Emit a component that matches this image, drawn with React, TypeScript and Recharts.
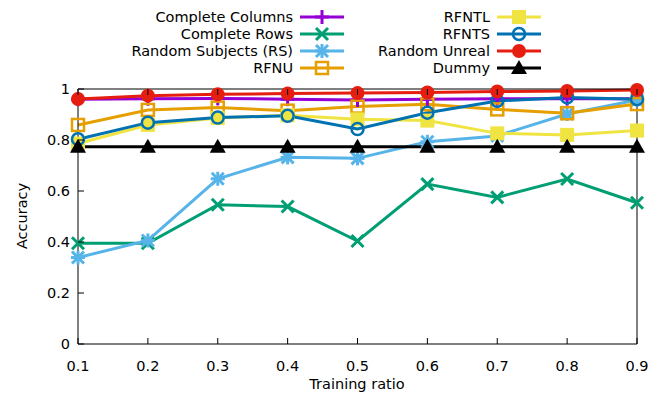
import React from "react";
import { LineChart, Line, XAxis, YAxis } from "recharts";

// training ratios on the x axis
const ratios = [0.1, 0.2, 0.3, 0.4, 0.5, 0.6, 0.7, 0.8, 0.9];
const xTicks = [0.1, 0.2, 0.3, 0.4, 0.5, 0.6, 0.7, 0.8, 0.9];
const yTicks = [0, 0.2, 0.4, 0.6, 0.8, 1];

// accuracy per series
const completeColumns = [0.96, 0.962, 0.963, 0.96, 0.957, 0.96, 0.962, 0.962, 0.962];
const completeRows = [0.395, 0.395, 0.546, 0.539, 0.404, 0.627, 0.575, 0.647, 0.554];
const randomSubjects = [0.339, 0.406, 0.648, 0.732, 0.728, 0.793, 0.816, 0.902, 0.957];
const rfnu = [0.859, 0.918, 0.927, 0.915, 0.931, 0.94, 0.92, 0.905, 0.941];
const rfntl = [0.786, 0.859, 0.886, 0.897, 0.881, 0.876, 0.826, 0.82, 0.837];
const rfnts = [0.803, 0.868, 0.888, 0.895, 0.843, 0.907, 0.953, 0.967, 0.96];
const randomUnreal = [0.961, 0.974, 0.979, 0.982, 0.984, 0.986, 0.99, 0.992, 0.996];
const dummy = [0.774, 0.774, 0.774, 0.774, 0.774, 0.774, 0.774, 0.774, 0.774];

const series = [
    { key: "cc", name: "Complete Columns", values: completeColumns, color: "#9400d3", shape: "plus" },
    { key: "cr", name: "Complete Rows", values: completeRows, color: "#009e73", shape: "cross" },
    { key: "rs", name: "Random Subjects (RS)", values: randomSubjects, color: "#56b4e9", shape: "star" },
    { key: "rfnu", name: "RFNU", values: rfnu, color: "#e69f00", shape: "openSquare" },
    { key: "rfntl", name: "RFNTL", values: rfntl, color: "#f0e442", shape: "square" },
    { key: "rfnts", name: "RFNTS", values: rfnts, color: "#0072b2", shape: "openCircle" },
    { key: "ru", name: "Random Unreal", values: randomUnreal, color: "#e51e10", shape: "circle" },
    { key: "dummy", name: "Dummy", values: dummy, color: "#000000", shape: "triangle" },
];

const data = ratios.map((r, i) => {
    const row: Record<string, number> = { ratio: r };
    series.forEach((s) => { row[s.key] = s.values[i]; });
    return row;
});

const W = 664;
const H = 399;
// axes take 1px each, so the plot area is 78..637 x 89..344
const margin = { top: 88, right: 26, bottom: 54, left: 77 };
const FONT = "DejaVu Sans, sans-serif";
const FS = 14.5;

const marker = (shape: string, cx: number, cy: number, color: string, key?: string | number) => {
    switch (shape) {
        case "plus":
            return (
                <g key={key} stroke={color} strokeWidth={3}>
                    <line x1={cx - 7} y1={cy} x2={cx + 7} y2={cy} />
                    <line x1={cx} y1={cy - 7} x2={cx} y2={cy + 7} />
                </g>
            );
        case "cross":
            return (
                <g key={key} stroke={color} strokeWidth={3}>
                    <line x1={cx - 6} y1={cy - 6} x2={cx + 6} y2={cy + 6} />
                    <line x1={cx - 6} y1={cy + 6} x2={cx + 6} y2={cy - 6} />
                </g>
            );
        case "star":
            return (
                <g key={key} stroke={color} strokeWidth={3}>
                    <line x1={cx - 6} y1={cy - 6} x2={cx + 6} y2={cy + 6} />
                    <line x1={cx - 6} y1={cy + 6} x2={cx + 6} y2={cy - 6} />
                    <line x1={cx - 7} y1={cy} x2={cx + 7} y2={cy} />
                    <line x1={cx} y1={cy - 7} x2={cx} y2={cy + 7} />
                </g>
            );
        case "openSquare":
            return <rect key={key} x={cx - 6} y={cy - 6} width={12} height={12} fill="none" stroke={color} strokeWidth={2.5} />;
        case "square":
            return <rect key={key} x={cx - 7} y={cy - 7} width={14} height={14} fill={color} />;
        case "openCircle":
            return <circle key={key} cx={cx} cy={cy} r={6} fill="none" stroke={color} strokeWidth={2.5} />;
        case "circle":
            return <circle key={key} cx={cx} cy={cy} r={7} fill={color} />;
        default:
            return <path key={key} d={`M${cx},${cy - 8}L${cx + 8},${cy + 6}L${cx - 8},${cy + 6}Z`} fill={color} />;
    }
};

const BottomTick = (props: any) => {
    const { x, y, payload } = props;
    return (
        <g>
            <line x1={x} y1={y} x2={x} y2={y - 6} stroke="#000" />
            <text x={x} y={y + 27} textAnchor="middle" fontSize={FS} fontFamily={FONT} fill="#000">
                {String(payload.value)}
            </text>
        </g>
    );
};

const TopTick = (props: any) => {
    const { x, y } = props;
    return <line x1={x} y1={y} x2={x} y2={y + 6} stroke="#000" />;
};

const LeftTick = (props: any) => {
    const { x, y, payload } = props;
    return (
        <g>
            <line x1={x} y1={y} x2={x + 6} y2={y} stroke="#000" />
            <text x={x - 8} y={y + 5} textAnchor="end" fontSize={FS} fontFamily={FONT} fill="#000">
                {String(payload.value)}
            </text>
        </g>
    );
};

const RightTick = (props: any) => {
    const { x, y } = props;
    return <line x1={x} y1={y} x2={x - 6} y2={y} stroke="#000" />;
};

const App: React.FC = () => {
    const rows = [17, 34, 51, 68];
    return (
        <div style={{ position: "absolute", left: 0, top: 0, width: W, height: H, background: "#fff" }}>
            <LineChart width={W} height={H} data={data} margin={margin}>
                <XAxis
                    xAxisId="b"
                    dataKey="ratio"
                    type="number"
                    domain={[0.1, 0.9]}
                    ticks={xTicks}
                    interval={0}
                    height={1}
                    tickSize={0}
                    tickMargin={0}
                    tick={<BottomTick />}
                    axisLine={{ stroke: "#000" }}
                />
                <XAxis
                    xAxisId="t"
                    dataKey="ratio"
                    orientation="top"
                    type="number"
                    domain={[0.1, 0.9]}
                    ticks={xTicks}
                    interval={0}
                    height={1}
                    tickSize={0}
                    tickMargin={0}
                    tick={<TopTick />}
                    axisLine={{ stroke: "#000" }}
                />
                <YAxis
                    yAxisId="l"
                    type="number"
                    domain={[0, 1]}
                    ticks={yTicks}
                    interval={0}
                    width={1}
                    tickSize={0}
                    tickMargin={0}
                    tick={<LeftTick />}
                    axisLine={{ stroke: "#000" }}
                />
                <YAxis
                    yAxisId="r"
                    orientation="right"
                    type="number"
                    domain={[0, 1]}
                    ticks={yTicks}
                    interval={0}
                    width={1}
                    tickSize={0}
                    tickMargin={0}
                    tick={<RightTick />}
                    axisLine={{ stroke: "#000" }}
                />
                {series.map((s) => (
                    <Line
                        key={s.key}
                        xAxisId="b"
                        yAxisId="l"
                        dataKey={s.key}
                        name={s.name}
                        stroke={s.color}
                        strokeWidth={3}
                        type="linear"
                        isAnimationActive={false}
                        dot={(p: any) => marker(s.shape, p.cx, p.cy, s.color, `${s.key}-${p.index}`)}
                        activeDot={false}
                    />
                ))}
            </LineChart>
            <svg width={W} height={H} style={{ position: "absolute", left: 0, top: 0, pointerEvents: "none" }}>
                {series.map((s, i) => {
                    const col = i < 4 ? 0 : 1;
                    const y = rows[i % 4];
                    const textEnd = col === 0 ? 293 : 490;
                    const x0 = col === 0 ? 300 : 497;
                    const x1 = x0 + 44;
                    return (
                        <g key={s.key}>
                            <text x={textEnd} y={y + 5} textAnchor="end" fontSize={FS} fontFamily={FONT} fill="#000">
                                {s.name}
                            </text>
                            <line x1={x0} y1={y} x2={x1} y2={y} stroke={s.color} strokeWidth={3} />
                            {marker(s.shape, (x0 + x1) / 2, y, s.color)}
                        </g>
                    );
                })}
                <text x={357} y={389} textAnchor="middle" fontSize={FS} fontFamily={FONT} fill="#000">
                    Training ratio
                </text>
                <text
                    x={0}
                    y={0}
                    transform="translate(27,216) rotate(-90)"
                    textAnchor="middle"
                    fontSize={FS}
                    fontFamily={FONT}
                    fill="#000"
                >
                    Accuracy
                </text>
            </svg>
        </div>
    );
};

export default App;
